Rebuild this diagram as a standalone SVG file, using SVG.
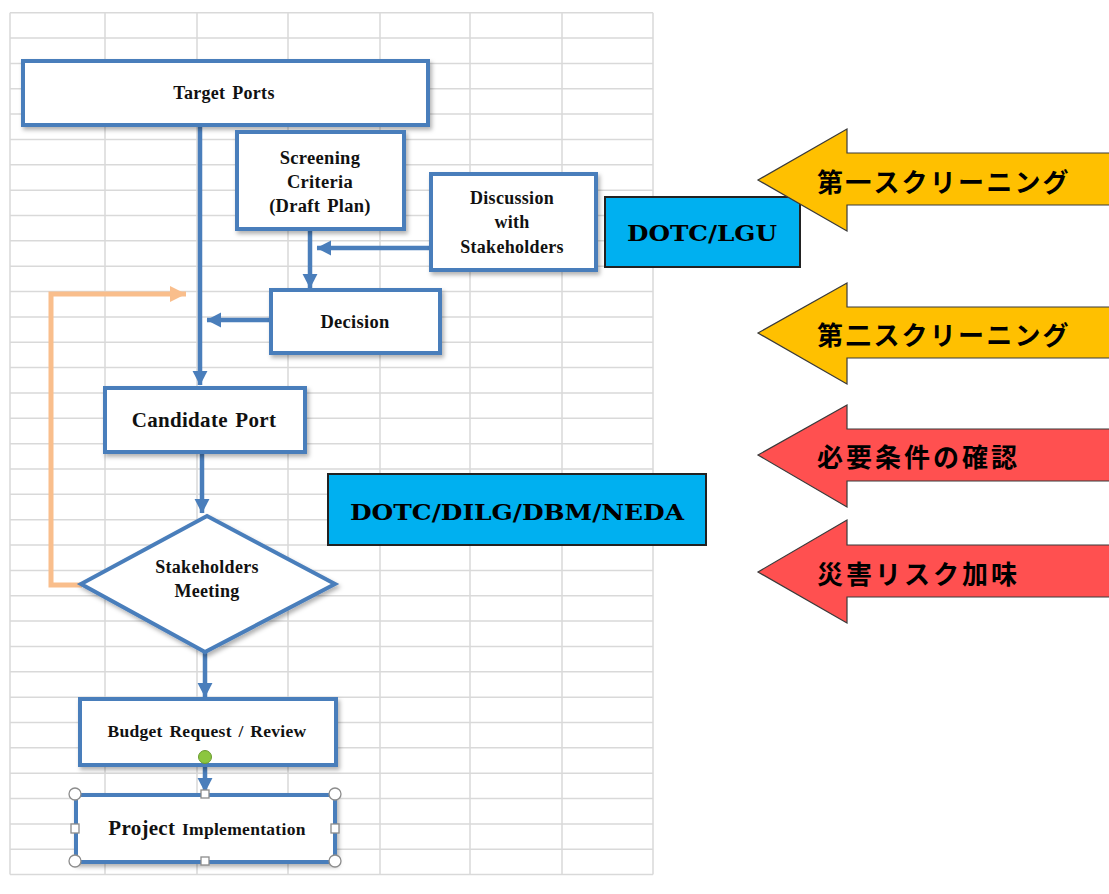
<svg xmlns="http://www.w3.org/2000/svg" width="1109" height="894" viewBox="0 0 1109 894">
<style>
.box{fill:#fff;stroke:#4a7ebb;stroke-width:4;filter:url(#sh)}
.lbl{font-family:"Liberation Serif","Times New Roman",serif;font-weight:bold;fill:#111;text-anchor:middle;letter-spacing:0.3px;word-spacing:2px}
.org{fill:#00b0f0;stroke:#222;stroke-width:2}
.orgt{font-family:"DejaVu Serif","Liberation Serif",serif;font-weight:bold;fill:#000;text-anchor:middle;font-size:23px}
.conn{fill:none;stroke:#4a7ebb;stroke-width:4.5}
.fb{fill:none;stroke:#f9be8c;stroke-width:5}
.yel{fill:#ffc000;stroke:#3a3a3a;stroke-width:1.2}
.red{fill:#ff5050;stroke:#3a3a3a;stroke-width:1.2}
.jp{font-family:"Noto Sans CJK JP","Noto Sans CJK SC",sans-serif;font-weight:bold;font-size:26px;fill:#000;dominant-baseline:central}
.hc{fill:#fff;stroke:#8c8c8c;stroke-width:1.3}
</style>
<defs>
<filter id="sh" x="-10%" y="-10%" width="125%" height="130%">
<feDropShadow dx="2" dy="3" stdDeviation="2" flood-color="#000" flood-opacity="0.3"/>
</filter>
<marker id="ah" markerWidth="4" markerHeight="4" refX="3.2" refY="2" orient="auto" markerUnits="strokeWidth">
<path d="M0,0.3 L3.3,2 L0,3.7 Z" fill="#4a7ebb"/>
</marker>
<marker id="ao" markerWidth="4" markerHeight="4" refX="3.2" refY="2" orient="auto" markerUnits="strokeWidth">
<path d="M0,0.4 L3.2,2 L0,3.6 Z" fill="#f9be8c"/>
</marker>
</defs>
<rect width="1109" height="894" fill="#fff"/>
<g id="grid" stroke="#d9d9d9" stroke-width="1.5" fill="none">
<path d="M10,12.7H653M10,38.05H653M10,63.4H653M10,88.75H653M10,114.1H653M10,139.45H653M10,164.8H653M10,190.15H653M10,215.5H653M10,240.85H653M10,266.2H653M10,291.55H653M10,316.9H653M10,342.25H653M10,367.6H653M10,392.95H653M10,418.3H653M10,443.65H653M10,469H653M10,494.35H653M10,519.7H653M10,545.05H653M10,570.4H653M10,595.75H653M10,621.1H653M10,646.45H653M10,671.8H653M10,697.15H653M10,722.5H653M10,747.85H653M10,773.2H653M10,798.55H653M10,823.9H653M10,849.25H653M10,874.6H653"/>
<path d="M10,12.7V874.6M105,12.7V874.6M197,12.7V874.6M288,12.7V874.6M380,12.7V874.6M470,12.7V874.6M562,12.7V874.6M653,12.7V874.6"/>
</g>
<g id="connectors">
<path class="conn" d="M200,125 V385" marker-end="url(#ah)"/>
<path class="conn" d="M310,229 V288" marker-end="url(#ah)"/>
<path class="conn" d="M430,248 H317" marker-end="url(#ah)"/>
<path class="conn" d="M270,320 H207" marker-end="url(#ah)"/>
<path class="conn" d="M202,453 V513" marker-end="url(#ah)"/>
<path class="conn" d="M205,652 V697" marker-end="url(#ah)"/>
<path class="conn" d="M205,765 V792" marker-end="url(#ah)"/>
<path class="fb" d="M82,585 H51 V294 H186" marker-end="url(#ao)"/>
</g>
<g id="target-ports">
<rect class="box" x="23" y="61" width="405" height="64"/>
<text class="lbl" x="224" y="99" font-size="18">Target Ports</text>
</g>
<g id="screening-criteria">
<rect class="box" x="237" y="132" width="167" height="97"/>
<text class="lbl" x="320" y="164" font-size="18.5">Screening</text>
<text class="lbl" x="320" y="188" font-size="18.5">Criteria</text>
<text class="lbl" x="320" y="212" font-size="18.5">(Draft Plan)</text>
</g>
<g id="discussion">
<rect class="box" x="431" y="174" width="165" height="96"/>
<text class="lbl" x="512" y="204" font-size="18">Discussion</text>
<text class="lbl" x="512" y="228" font-size="18">with</text>
<text class="lbl" x="512" y="253" font-size="18">Stakeholders</text>
</g>
<g id="dotc-lgu">
<rect class="org" x="605" y="197" width="195" height="70"/>
<text class="orgt" x="702" y="241" textLength="150" lengthAdjust="spacingAndGlyphs">DOTC/LGU</text>
</g>
<g id="decision">
<rect class="box" x="271" y="290" width="169" height="63"/>
<text class="lbl" x="355" y="328" font-size="18.5">Decision</text>
</g>
<g id="candidate-port">
<rect class="box" x="105" y="388" width="200" height="64"/>
<text class="lbl" x="204" y="427" font-size="21">Candidate Port</text>
</g>
<g id="dotc-dilg">
<rect class="org" x="328" y="474" width="378" height="71"/>
<text class="orgt" x="517" y="520" textLength="334" lengthAdjust="spacingAndGlyphs">DOTC/DILG/DBM/NEDA</text>
</g>
<g id="stakeholders-meeting">
<polygon class="box" points="207,516 335,584 205,652 81,584"/>
<text class="lbl" x="207" y="573" font-size="18">Stakeholders</text>
<text class="lbl" x="207" y="597" font-size="18">Meeting</text>
</g>
<g id="budget">
<rect class="box" x="80" y="699" width="256" height="66"/>
<text class="lbl" x="207" y="737" font-size="17.5">Budget Request / Review</text>
<circle cx="205" cy="757" r="6.5" fill="#8cc63f" stroke="#6a9a30" stroke-width="1"/>
</g>
<g id="project-implementation">
<rect class="box" x="76" y="795" width="259" height="67"/>
<text class="lbl" x="207" y="835" font-size="17.5"><tspan font-size="21">Project</tspan> Implementation</text>
<circle class="hc" cx="75" cy="794" r="6"/>
<circle class="hc" cx="335" cy="794" r="6"/>
<circle class="hc" cx="75" cy="861" r="6"/>
<circle class="hc" cx="335" cy="861" r="6"/>
<rect class="hc" x="201" y="790" width="8" height="8"/>
<rect class="hc" x="201" y="857" width="8" height="8"/>
<rect class="hc" x="71" y="824" width="8" height="9"/>
<rect class="hc" x="331" y="824" width="8" height="9"/>
</g>
<g id="arrow-screening1">
<polygon class="yel" points="758,180 847,129 847,153 1112,153 1112,205 847,205 847,231"/>
<text class="jp" x="817" y="180" letter-spacing="2.2">第一スクリーニング</text>
</g>
<g id="arrow-screening2">
<polygon class="yel" points="758,333 847,283 847,307 1112,307 1112,358 847,358 847,384"/>
<text class="jp" x="817" y="333" letter-spacing="2.2">第二スクリーニング</text>
</g>
<g id="arrow-requirements">
<polygon class="red" points="758,455 847,405 847,429 1112,429 1112,481 847,481 847,507"/>
<text class="jp" x="817" y="455" letter-spacing="3">必要条件の確認</text>
</g>
<g id="arrow-disaster">
<polygon class="red" points="758,572 847,520 847,545 1112,545 1112,597 847,597 847,623"/>
<text class="jp" x="817" y="572" letter-spacing="3">災害リスク加味</text>
</g>
</svg>
